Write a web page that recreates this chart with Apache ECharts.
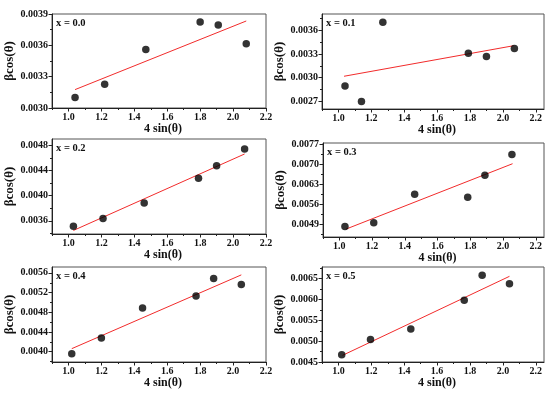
<!DOCTYPE html>
<html>
<head>
<meta charset="utf-8">
<script src="https://cdn.jsdelivr.net/npm/echarts@6/dist/echarts.min.js"></script>
<style>
html,body{margin:0;padding:0;background:#fff;}
#c{width:550px;height:395px;}
</style>
</head>
<body>
<div id="c"></div>
<script>
// ---- data ----
const panelLabels = ['x = 0.0', 'x = 0.1', 'x = 0.2', 'x = 0.3', 'x = 0.4', 'x = 0.5'];
const xTickLabels = [1.0, 1.2, 1.4, 1.6, 1.8, 2.0, 2.2];
const xMinorTicks = [0.9, 1.1, 1.3, 1.5, 1.7, 1.9, 2.1];

const x0 = [1.04, 1.22, 1.47, 1.80, 1.91, 2.08];
const y0 = [0.00310, 0.003227, 0.00356, 0.003823, 0.003794, 0.003615];
const fitX0 = [1.04, 2.08];
const fitY0 = [0.003176, 0.003833];
const yTicks0 = [0.0030, 0.0033, 0.0036, 0.0039];

const x1 = [1.04, 1.14, 1.27, 1.79, 1.90, 2.07];
const y1 = [0.002894, 0.002696, 0.003706, 0.003309, 0.00327, 0.003372];
const fitX1 = [1.034, 2.065];
const fitY1 = [0.003017, 0.003406];
const yTicks1 = [0.0027, 0.0030, 0.0033, 0.0036];

const x2 = [1.03, 1.21, 1.46, 1.79, 1.90, 2.07];
const y2 = [0.003515, 0.003637, 0.003883, 0.004278, 0.004474, 0.004742];
const fitX2 = [1.03, 2.07];
const fitY2 = [0.003446, 0.004662];
const yTicks2 = [0.0036, 0.0040, 0.0044, 0.0048];

const x3 = [1.034, 1.21, 1.46, 1.784, 1.889, 2.054];
const y3 = [0.004819, 0.004946, 0.005949, 0.005844, 0.006614, 0.007349];
const fitX3 = [1.04, 2.058];
const fitY3 = [0.004726, 0.007023];
const yTicks3 = [0.0049, 0.0056, 0.0063, 0.0070, 0.0077];

const x4 = [1.02, 1.20, 1.45, 1.775, 1.882, 2.05];
const y4 = [0.00396, 0.004278, 0.004888, 0.005132, 0.005485, 0.005364];
const fitX4 = [1.02, 2.05];
const fitY4 = [0.004061, 0.00556];
const yTicks4 = [0.0040, 0.0044, 0.0048, 0.0052, 0.0056];

const x5 = [1.02, 1.195, 1.44, 1.765, 1.874, 2.04];
const y5 = [0.004676, 0.00504, 0.005292, 0.005984, 0.00658, 0.00638];
const fitX5 = [1.025, 2.04];
const fitY5 = [0.00466, 0.006556];
const yTicks5 = [0.0045, 0.0050, 0.0055, 0.0060, 0.0065];

// ---- layout ----
const xs = [x0, x1, x2, x3, x4, x5];
const ys = [y0, y1, y2, y3, y4, y5];
const fitXs = [fitX0, fitX1, fitX2, fitX3, fitX4, fitX5];
const fitYs = [fitY0, fitY1, fitY2, fitY3, fitY4, fitY5];
const yTickSets = [yTicks0, yTicks1, yTicks2, yTicks3, yTicks4, yTicks5];
const yRanges = [[0.0030, 0.0039], [0.0026, 0.00381], [0.00339, 0.0049], [0.00445, 0.00775], [0.00379, 0.00572], [0.0045, 0.00678]];
const xRanges = [[0.9, 2.2], [0.9, 2.25], [0.9, 2.2], [0.9, 2.25], [0.9, 2.2], [0.9, 2.25]];
const grids = [
  {left: 52, top: 14, width: 214, height: 94},
  {left: 322, top: 14, width: 222, height: 95},
  {left: 52, top: 139, width: 214, height: 95},
  {left: 323, top: 143, width: 221, height: 94},
  {left: 52, top: 267, width: 214, height: 95},
  {left: 322, top: 267, width: 222, height: 95}
];

const FONT = 'Liberation Serif';
const axisColor = '#222';

function minorOf(ticks, lo, hi) {
  const step = ticks[1] - ticks[0];
  const out = [];
  const first = ticks[0] - step / 2;
  for (let v = first; v <= hi + 1e-12; v += step) {
    if (v >= lo - 1e-12) out.push(+v.toFixed(6));
  }
  return out;
}

const option = {
  animation: false,
  backgroundColor: '#fff',
  grid: [], xAxis: [], yAxis: [], series: [], title: []
};

for (let i = 0; i < 6; i++) {
  const g = grids[i];
  option.grid.push({left: g.left, top: g.top, width: g.width, height: g.height, show: true, borderColor: '#555', borderWidth: 1, backgroundColor: 'transparent', containLabel: false});
  option.grid.push({left: g.left, top: g.top, width: g.width, height: g.height, show: false});
  const gi = 2 * i;
  option.xAxis.push({
    type: 'value', gridIndex: gi, min: xRanges[i][0], max: xRanges[i][1],
    name: '4 sin(θ)', nameLocation: 'middle', nameGap: 14,
    nameTextStyle: {fontFamily: FONT, fontWeight: 'bold', fontSize: 12, color: '#111', padding: [0, 0, 0, 8]},
    axisLine: {show: true, onZero: false, lineStyle: {color: axisColor, width: 1}},
    axisTick: {show: true, length: 3.5, customValues: xTickLabels, lineStyle: {color: axisColor}},
    axisLabel: {show: true, customValues: xTickLabels, margin: 4, fontFamily: FONT, fontWeight: 'bold', fontSize: 10, color: '#111',
      formatter: v => v.toFixed(1)},
    splitLine: {show: false}
  });
  option.xAxis.push({
    type: 'value', gridIndex: gi + 1, min: xRanges[i][0], max: xRanges[i][1],
    axisLine: {show: false},
    axisTick: {show: true, length: 2, customValues: xMinorTicks, lineStyle: {color: axisColor}},
    axisLabel: {show: false}, splitLine: {show: false}
  });
  const yt = yTickSets[i];
  const yr = yRanges[i];
  option.yAxis.push({
    type: 'value', gridIndex: gi, min: yr[0], max: yr[1],
    name: 'βcos(θ)', nameLocation: 'middle', nameGap: 32, nameRotate: 90,
    nameTextStyle: {fontFamily: FONT, fontWeight: 'bold', fontSize: 13, color: '#111'},
    axisLine: {show: true, onZero: false, lineStyle: {color: axisColor, width: 1}},
    axisTick: {show: true, length: 3.5, customValues: yt, lineStyle: {color: axisColor}},
    axisLabel: {show: true, customValues: yt, margin: 4, fontFamily: FONT, fontWeight: 'bold', fontSize: 10, color: '#111',
      formatter: v => v.toFixed(4)},
    splitLine: {show: false}
  });
  option.yAxis.push({
    type: 'value', gridIndex: gi + 1, min: yr[0], max: yr[1],
    axisLine: {show: false},
    axisTick: {show: true, length: 2, customValues: minorOf(yt, yr[0], yr[1]), lineStyle: {color: axisColor}},
    axisLabel: {show: false}, splitLine: {show: false}
  });
  const xAxisIndex = 2 * i, yAxisIndex = 2 * i;
  option.series.push({
    type: 'line', xAxisIndex, yAxisIndex,
    data: fitXs[i].map((x, k) => [x, fitYs[i][k]]),
    showSymbol: false, symbol: 'none',
    lineStyle: {color: '#f22b2b', width: 1}, z: 2
  });
  option.series.push({
    type: 'scatter', xAxisIndex, yAxisIndex,
    data: xs[i].map((x, k) => [x, ys[i][k]]),
    symbol: 'circle', symbolSize: 7.5,
    itemStyle: {color: '#000'}, z: 3
  });
  option.title.push({
    text: panelLabels[i], left: g.left + 4, top: g.top + 4, padding: 0,
    textStyle: {fontFamily: FONT, fontWeight: 'bold', fontSize: 10.5, color: '#111'}
  });
}

const chart = echarts.init(document.getElementById('c'), null, {renderer: 'canvas'});
chart.setOption(option);
</script>
</body>
</html>
